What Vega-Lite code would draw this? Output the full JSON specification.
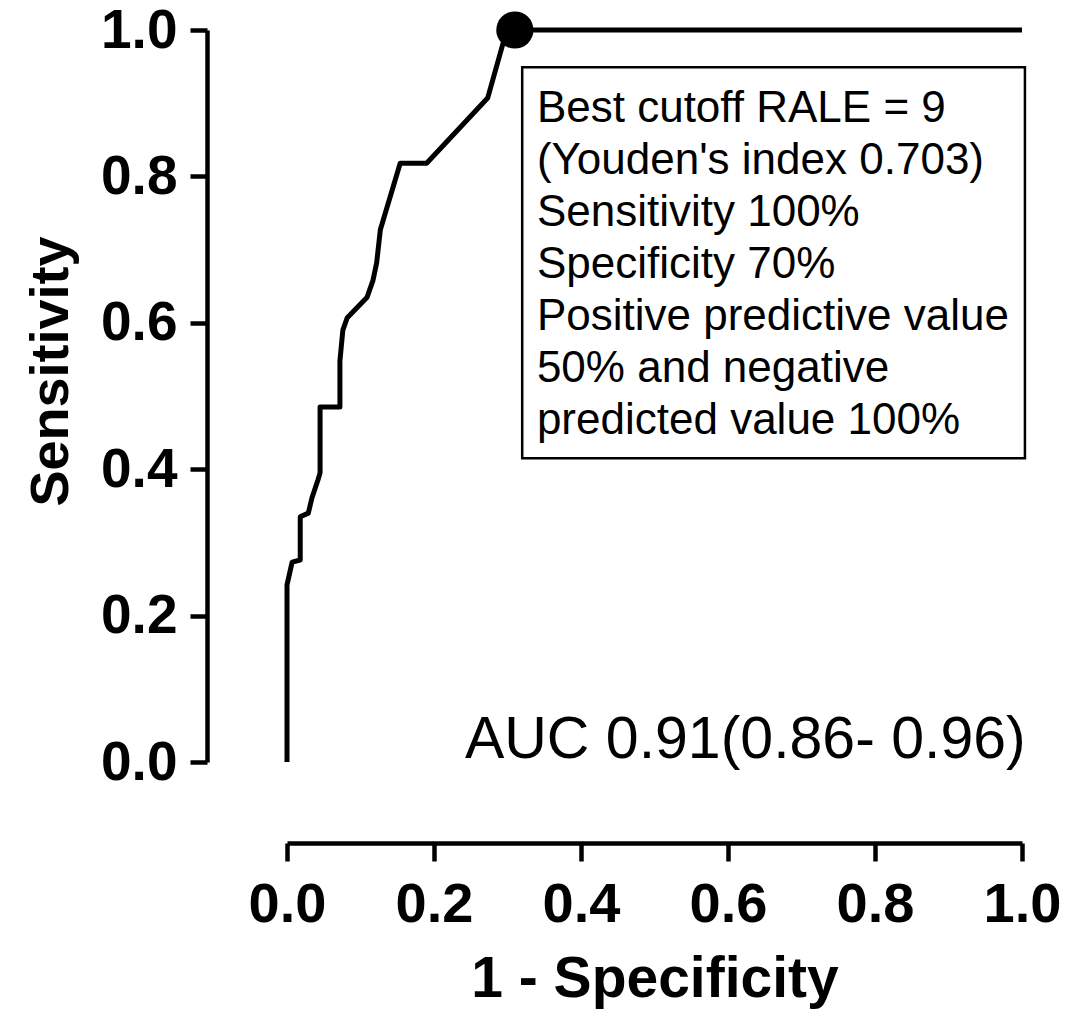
{
  "$schema": "https://vega.github.io/schema/vega-lite/v6.json",
  "width": 735,
  "height": 732,
  "autosize": {"type": "none"},
  "padding": {"left": 287, "top": 30, "right": 49, "bottom": 257},
  "background": "white",
  "config": {"view": {"stroke": null}, "font": "Liberation Sans"},
  "datasets": {
    "roc": [
      {"i": 0, "fpr": 0.0, "sens": 0.0},
      {"i": 1, "fpr": 0.0, "sens": 0.242},
      {"i": 2, "fpr": 0.007, "sens": 0.273},
      {"i": 3, "fpr": 0.018, "sens": 0.276},
      {"i": 4, "fpr": 0.018, "sens": 0.335},
      {"i": 5, "fpr": 0.029, "sens": 0.340},
      {"i": 6, "fpr": 0.034, "sens": 0.361},
      {"i": 7, "fpr": 0.042, "sens": 0.385},
      {"i": 8, "fpr": 0.045, "sens": 0.395},
      {"i": 9, "fpr": 0.045, "sens": 0.485},
      {"i": 10, "fpr": 0.072, "sens": 0.485},
      {"i": 11, "fpr": 0.072, "sens": 0.548},
      {"i": 12, "fpr": 0.076, "sens": 0.590},
      {"i": 13, "fpr": 0.082, "sens": 0.607},
      {"i": 14, "fpr": 0.109, "sens": 0.635},
      {"i": 15, "fpr": 0.117, "sens": 0.658},
      {"i": 16, "fpr": 0.122, "sens": 0.682},
      {"i": 17, "fpr": 0.127, "sens": 0.727},
      {"i": 18, "fpr": 0.154, "sens": 0.818},
      {"i": 19, "fpr": 0.190, "sens": 0.818},
      {"i": 20, "fpr": 0.273, "sens": 0.907},
      {"i": 21, "fpr": 0.294, "sens": 0.982},
      {"i": 22, "fpr": 0.31, "sens": 1.0},
      {"i": 23, "fpr": 1.0, "sens": 1.0}
    ],
    "cutoff": [{"fpr": 0.31, "sens": 1.0}]
  },
  "layer": [
    {
      "data": {"name": "roc"},
      "mark": {"type": "line", "color": "black", "strokeWidth": 5, "strokeJoin": "round", "clip": false},
      "encoding": {
        "x": {
          "field": "fpr", "type": "quantitative",
          "scale": {"domain": [0, 1], "nice": false, "zero": false},
          "axis": {
            "values": [0, 0.2, 0.4, 0.6, 0.8, 1.0], "format": ".1f", "grid": false,
            "labelFlush": false, "labelOverlap": false,
            "offset": 81, "domainColor": "black", "domainWidth": 4.5, "tickColor": "black", "tickWidth": 4.5, "tickSize": 18,
            "labelFontSize": 56, "labelFontWeight": "bold", "labelColor": "black", "labelPadding": 16, "labelFont": "Liberation Sans",
            "title": "1 - Specificity", "titleFontSize": 57, "titleFontWeight": "bold", "titleColor": "black", "titlePadding": 19, "titleFont": "Liberation Sans"
          }
        },
        "y": {
          "field": "sens", "type": "quantitative",
          "scale": {"domain": [0, 1], "nice": false, "zero": false},
          "axis": {
            "values": [0, 0.2, 0.4, 0.6, 0.8, 1.0], "format": ".1f", "grid": false,
            "labelFlush": false, "labelOverlap": false,
            "offset": 80, "domainColor": "black", "domainWidth": 4.5, "tickColor": "black", "tickWidth": 4.5, "tickSize": 17,
            "labelFontSize": 55, "labelFontWeight": "bold", "labelColor": "black", "labelPadding": 13, "labelFont": "Liberation Sans",
            "title": "Sensitivity", "titleFontSize": 54, "titleFontWeight": "bold", "titleColor": "black", "titlePadding": 22, "titleFont": "Liberation Sans", "titleY": 341
          }
        },
        "order": {"field": "i", "type": "quantitative"}
      }
    },
    {
      "data": {"name": "cutoff"},
      "mark": {"type": "point", "shape": "circle", "filled": true, "color": "black", "opacity": 1, "size": 1385, "clip": false},
      "encoding": {
        "x": {"field": "fpr", "type": "quantitative"},
        "y": {"field": "sens", "type": "quantitative"}
      }
    },
    {
      "data": {"values": [{}]},
      "mark": {"type": "rect", "fill": "white", "fillOpacity": 0, "stroke": "black", "strokeWidth": 2.5, "clip": false},
      "encoding": {
        "x": {"datum": 0.32, "type": "quantitative"},
        "x2": {"datum": 1.004},
        "y": {"datum": 0.949, "type": "quantitative"},
        "y2": {"datum": 0.415}
      }
    },
    {
      "data": {"values": [{}]},
      "mark": {
        "type": "text",
        "text": ["Best cutoff RALE = 9", "(Youden's index 0.703)", "Sensitivity 100%", "Specificity 70%", "Positive predictive value", "50% and negative", "predicted value 100%"],
        "align": "left", "baseline": "alphabetic", "fontSize": 44, "lineHeight": 52, "font": "Liberation Sans", "color": "black"
      },
      "encoding": {
        "x": {"datum": 0.34, "type": "quantitative"},
        "y": {"datum": 0.874, "type": "quantitative"}
      }
    },
    {
      "data": {"values": [{}]},
      "mark": {"type": "text", "text": "AUC 0.91(0.86- 0.96)", "align": "right", "baseline": "alphabetic", "fontSize": 59, "font": "Liberation Sans", "color": "black"},
      "encoding": {
        "x": {"datum": 1.005, "type": "quantitative"},
        "y": {"datum": 0.005, "type": "quantitative"}
      }
    }
  ]
}
